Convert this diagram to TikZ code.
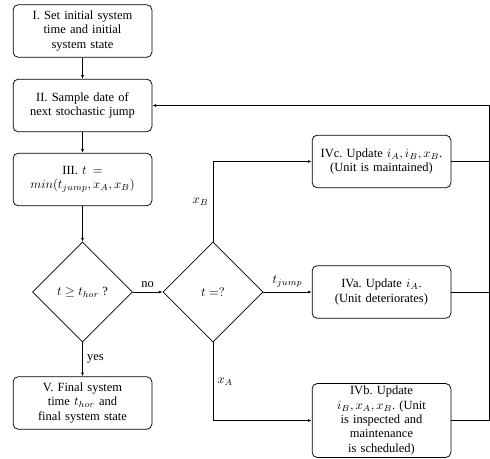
\documentclass[tikz,border=0pt]{standalone}
\usepackage{fontspec}
\setmainfont{Liberation Serif}
\usetikzlibrary{arrows.meta, shapes.geometric, positioning}

\begin{document}
\begin{tikzpicture}[x=1pt, y=1pt, >={Latex[length=3pt,width=2.4pt]}, line width=0.6pt, node distance=60pt, on grid, auto, block/.style={rectangle, rounded corners=4pt, draw, align=center, text width=105pt, inner xsep=3pt, inner ysep=2pt, minimum height=42pt, font=\fontsize{10}{11.5}\selectfont}, decision/.style={diamond, draw, aspect=1, minimum size=80pt, inner sep=0pt, font=\fontsize{10}{11.5}\selectfont}]

            \useasboundingbox (0,0) rectangle (392,-367.2);
            \node[block] (S1) at (66,-24.8) {I. Set initial system\\time and initial\\system state};
            \node[block, below=59.6pt of S1] (S2) {II. Sample date of\\next stochastic jump};
            \node[block, below=59.2pt of S2] (S3) {III.~$t\mskip9mu{=}$\\$min(t_{jump},x_A,x_B)$};
            \node[decision, below=90pt of S3] (D1) {$t\geq t_{hor}$ ?};
            \node[block, below=88.8pt of D1] (S5) {V. Final system\\time $t_{hor}$ and\\final system state};
            \node[decision, right=104.4pt of D1] (D2) {$t=?$};
            \node[block, right=134.8pt of D2] (S4a) {IVa.\ Update $i_A$.\\(Unit deteriorates)};
            \node[block, above=104.4pt of S4a] (S4c) {IVc.\ Update $i_A,i_B,x_B$.\\(Unit is maintained)};
            \node[block, below=102.8pt of S4a, minimum height=55pt] (S4b) {IVb.\ Update\\$i_B,x_A,x_B$.\ (Unit\\is inspected and\\maintenance\\is scheduled)};
            \coordinate (R) at (391.2,0 |- S2.east);



            \path[->]
            (S1) edge (S2)
            (S2) edge (S3)
            (S3) edge (D1)
            (D1) edge node {yes} (S5)
            (D1) edge node {no} (D2)
            (D2) edge node {$t_{jump}$} (S4a)
            ;
            \draw[->] (D2.north) |- node[pos=0.25] {$x_B$} (S4c.west);
            \draw[->] (D2.south) |- node[pos=0.25] {$x_A$} (S4b.west);
            \draw (S4c.east) -- (S4c.east -| R);
            \draw (S4a.east) -- (S4a.east -| R);
            \draw[->] (S4b.east) -| (R) -- (S2.east);

        \end{tikzpicture}
\end{document}
